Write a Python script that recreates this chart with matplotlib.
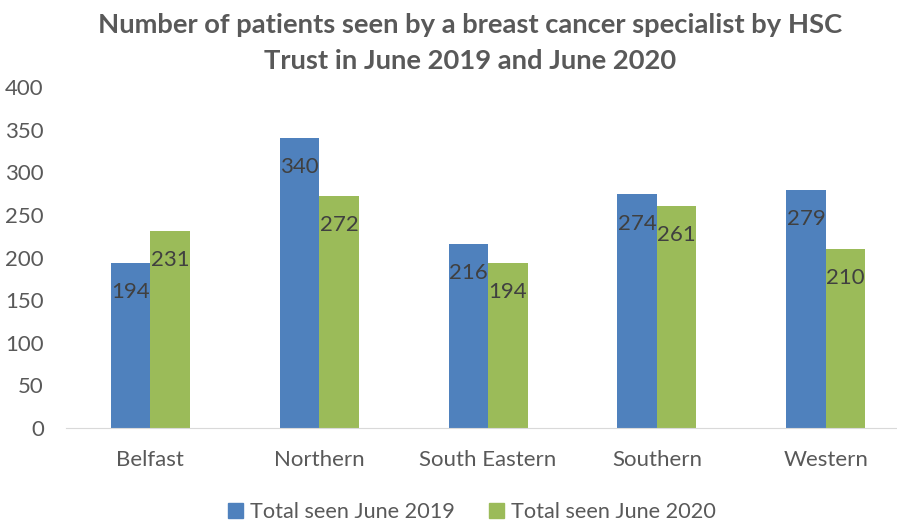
import matplotlib
matplotlib.use("Agg")
import matplotlib.pyplot as plt
import numpy as np
from matplotlib.patches import Patch

# data
trusts = ["Belfast", "Northern", "South Eastern", "Southern", "Western"]
seen_2019 = [194, 340, 216, 274, 279]
seen_2020 = [231, 272, 194, 261, 210]
series_names = ["Total seen June 2019", "Total seen June 2020"]
y_ticks = [0, 50, 100, 150, 200, 250, 300, 350, 400]

blue = "#4F81BD"
green = "#9BBB59"

plt.rcParams['font.family'] = ['Lato', 'DejaVu Sans']

fig = plt.figure(figsize=(8.97, 5.21), dpi=100)
ax = fig.add_axes([0.0736, 0.1785, 0.941, 0.6545])

x = np.arange(len(trusts))
w = 0.234
b1 = ax.bar(x - w / 2, seen_2019, w, color=blue)
b2 = ax.bar(x + w / 2, seen_2020, w, color=green)

# labels sit just inside the top of each bar
for bars, vals in ((b1, seen_2019), (b2, seen_2020)):
    for r, v in zip(bars, vals):
        ax.annotate(str(v), (r.get_x() + r.get_width() / 2, v),
                    xytext=(0, -21), textcoords="offset points",
                    ha="center", va="center", fontsize=16, color="#404040")

ax.set_xlim(-0.5, len(trusts) - 0.5)
ax.set_ylim(0, 400)
ax.set_yticks(y_ticks)
ax.set_xticks(x)
ax.set_xticklabels(trusts)
ax.tick_params(axis="both", length=0, labelsize=16, colors="#595959")
ax.tick_params(axis="x", pad=16)
ax.tick_params(axis="y", pad=16)
for s in ("top", "right", "left"):
    ax.spines[s].set_visible(False)
ax.spines["bottom"].set_color("#D9D9D9")

fig.text(0.524, 0.952, "Number of patients seen by a breast cancer specialist by HSC",
         ha="center", va="center", fontsize=19.7, fontweight="bold", color="#595959")
fig.text(0.524, 0.882, "Trust in June 2019 and June 2020",
         ha="center", va="center", fontsize=19.7, fontweight="bold", color="#595959")

handles = [Patch(color=blue), Patch(color=green)]
fig.legend(handles, series_names, loc="center", bbox_to_anchor=(0.526, 0.017),
           ncol=2, frameon=False, fontsize=15.6, handlelength=0.7, handleheight=0.7,
           handletextpad=0.3, columnspacing=1.6, labelcolor="#595959")

fig.savefig("out.png", dpi=100)
